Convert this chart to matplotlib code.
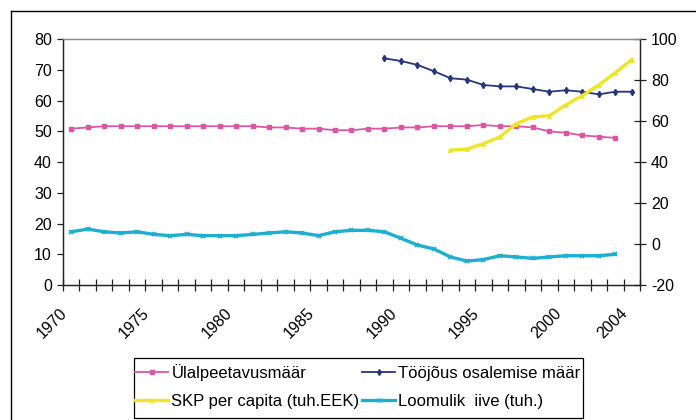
import numpy as np
import matplotlib
matplotlib.use("Agg")
import matplotlib.pyplot as plt
from matplotlib.lines import Line2D
from matplotlib.patches import Rectangle

plt.rcParams["font.family"] = ["Liberation Sans", "DejaVu Sans"]
plt.rcParams["axes.unicode_minus"] = False

# years on the category axis
years = list(range(1970, 2005))
year_labels = ["1970", "1975", "1980", "1985", "1990", "1995", "2000", "2004"]

# left axis
ulalpeetavus = [50.9, 51.3, 51.7, 51.7, 51.7, 51.7, 51.7, 51.7, 51.7, 51.7,
                51.7, 51.7, 51.3, 51.3, 50.9, 50.9, 50.4, 50.4, 50.9, 50.9,
                51.3, 51.3, 51.7, 51.7, 51.7, 52.1, 51.7, 51.7, 51.3, 50.0,
                49.6, 48.7, 48.3, 47.9, None]

# right axis
toojoud = [None] * 19 + [90.7, 89.4, 87.5, 84.4, 81.0, 80.3, 77.7, 77.0, 77.0,
                         75.7, 74.4, 75.1, 74.4, 73.1, 74.4, 74.4]
skp = [None] * 23 + [45.8, 46.4, 49.0, 52.3, 58.8, 62.1, 62.7, 67.9, 72.5,
                     77.7, 83.6, 90.1]
iive = [6.0, 7.3, 6.0, 5.4, 6.0, 4.7, 4.1, 4.7, 4.1, 4.1,
        4.1, 4.7, 5.4, 6.0, 5.4, 4.1, 6.0, 6.7, 6.7, 6.0,
        2.8, -0.5, -2.4, -6.3, -8.3, -7.6, -5.7, -6.3, -7.0, -6.3,
        -5.7, -5.7, -5.7, -5.0, None]

pink = "#DC56A2"
navy = "#25367A"
yellow = "#EEE529"
cyan = "#1CAFD0"


def arr(values):
    return np.array([np.nan if v is None else v for v in values], dtype=float)


x = np.arange(len(years))

fig = plt.figure(figsize=(6.96, 4.2), dpi=100)
ax = fig.add_axes([63 / 696, 1 - 285 / 420, 577 / 696, 245.7 / 420])
ax2 = ax.twinx()

ax.plot(x, arr(ulalpeetavus), color=pink, lw=1.3, marker="s", ms=3.2,
        mec=pink, mfc=pink, zorder=3)
ax2.plot(x, arr(toojoud), color=navy, lw=1.3, marker="d", ms=3.2,
         mec=navy, mfc=navy, zorder=3)
ax2.plot(x, arr(skp), color=yellow, lw=2.4, marker="^", ms=2.5,
         mec=yellow, mfc=yellow, zorder=3)
ax2.plot(x, arr(iive), color=cyan, lw=2.4, marker="x", ms=3.5,
         mec=cyan, mew=1.2, zorder=3)

ax.set_xlim(-0.5, len(years) - 0.5)
ax.set_ylim(0, 80)
ax.set_yticks(np.arange(0, 81, 10))
ax2.set_ylim(-20, 100)
ax2.set_yticks(np.arange(-20, 101, 20))

ax.set_xticks(np.arange(-0.5, len(years), 1.0))
ax.set_xticklabels([])
ax.tick_params(axis="x", direction="inout", length=8, width=0.9, color="#222222")
ax.tick_params(axis="y", direction="out", length=4, width=0.9, color="#222222",
               labelsize=11.5, pad=4)
ax2.tick_params(axis="y", direction="inout", length=8, width=0.9, color="#222222",
                labelsize=11.5, pad=4)

for a in (ax, ax2):
    a.spines["top"].set_color("#8c8c8c")
    a.spines["left"].set_color("#222222")
    a.spines["right"].set_color("#222222")
    a.spines["bottom"].set_color("#222222")
    for s in a.spines.values():
        s.set_linewidth(0.9)

for lab in year_labels:
    i = years.index(int(lab))
    ax.text(i - 0.4, -8.4, lab, rotation=45, rotation_mode="anchor",
            ha="right", va="center", fontsize=11.5, transform=ax.transData)

handles = [
    Line2D([], [], color=pink, lw=1.3, marker="s", ms=3),
    Line2D([], [], color=navy, lw=1.3, marker="d", ms=3),
    Line2D([], [], color=yellow, lw=2.4, marker="^", ms=2.5),
    Line2D([], [], color=cyan, lw=2.4, marker="x", ms=3),
]
labels = ["Ülalpeetavusmäär", "SKP per capita (tuh.EEK)",
          "Tööjõus osalemise määr", "Loomulik  iive (tuh.)"]
handles = [handles[0], handles[2], handles[1], handles[3]]
leg = fig.legend(handles, labels, ncol=2, loc="upper left",
                 bbox_to_anchor=(135 / 696, 1 - 364 / 420),
                 fontsize=12, frameon=False,
                 handlelength=2.0, handletextpad=0.18,
                 borderpad=0, labelspacing=0.8, columnspacing=0.15,
                 borderaxespad=0)

# legend box
fig.add_artist(Rectangle((134 / 696, 1 - 418 / 420), 449 / 696, 60 / 420,
                         transform=fig.transFigure, fill=False,
                         edgecolor="black", lw=0.9))

# outer chart border
fig.add_artist(Line2D([11 / 696, 1], [1 - 11 / 420, 1 - 11 / 420],
                      color="black", lw=1, transform=fig.transFigure))
fig.add_artist(Line2D([11 / 696, 11 / 696], [0, 1 - 11 / 420],
                      color="black", lw=1, transform=fig.transFigure))

fig.savefig("out.png", dpi=100)
